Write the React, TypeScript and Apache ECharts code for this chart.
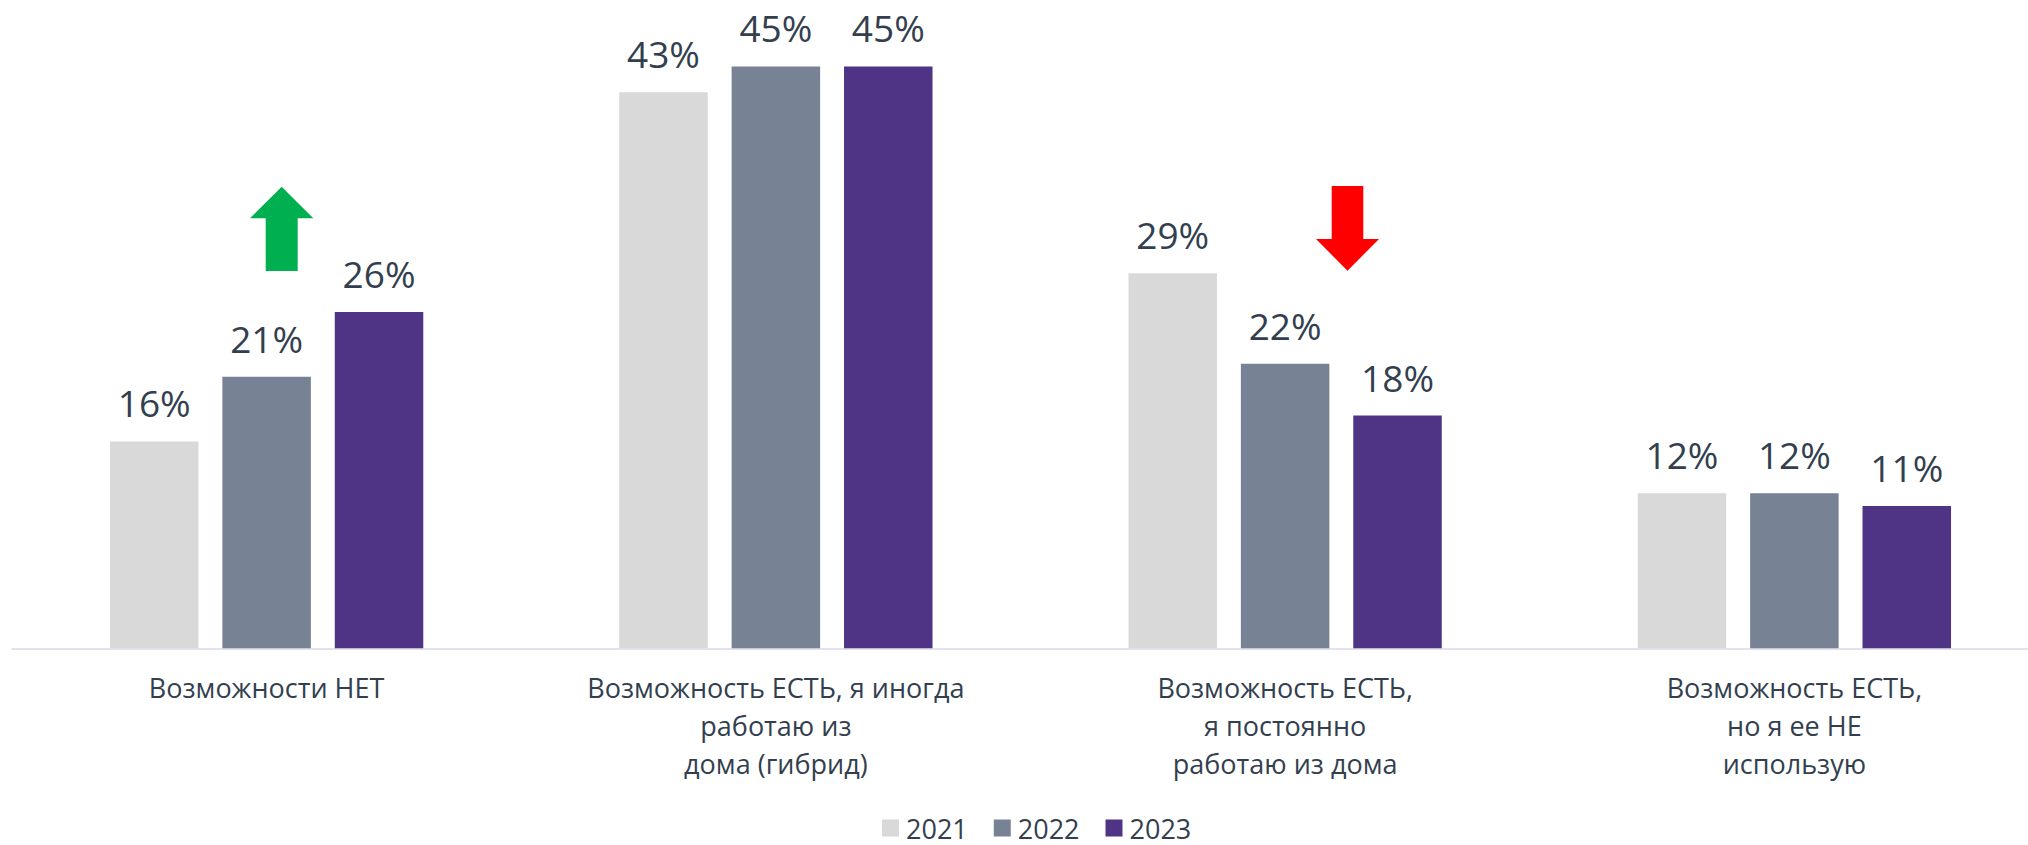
import React, { useEffect, useRef } from "react";
import * as echarts from "echarts";

const categories = [
  "Возможности НЕТ",
  "Возможность ЕСТЬ, я иногда\nработаю из\nдома (гибрид)",
  "Возможность ЕСТЬ,\nя постоянно\nработаю из дома",
  "Возможность ЕСТЬ,\nно я ее НЕ\nиспользую",
];
const years = ["2021", "2022", "2023"];
const values2021 = [16, 43, 29, 12];
const values2022 = [21, 45, 22, 12];
const values2023 = [26, 45, 18, 11];
const colors = ["#D9D9D9", "#778294", "#4F3485"];

const FONT = "'Open Sans', 'Noto Sans', sans-serif";
const TEXT = "#333F4F";

export default function App() {
  const ref = useRef<HTMLDivElement>(null);
  useEffect(() => {
    if (!ref.current) return;
    const chart = echarts.init(ref.current, null, { renderer: "svg" });
    const seriesData = [values2021, values2022, values2023];
    chart.setOption({
      animation: false,
      backgroundColor: "#FFFFFF",
      textStyle: { fontFamily: FONT },
      grid: { left: 12, top: 1.8, width: 2037, height: 646.5, containLabel: false },
      legend: {
        data: years,
        left: 877,
        top: 808,
        itemWidth: 17,
        itemHeight: 17,
        itemGap: 26,
        icon: "rect",
        textStyle: { fontFamily: FONT, fontSize: 27, lineHeight: 30, color: TEXT, padding: [0, 0, 0, 2] },
      },
      xAxis: {
        type: "category",
        data: categories,
        axisTick: { show: false },
        axisLine: { lineStyle: { color: "#DDD8EA", width: 1.5 } },
        axisLabel: {
          interval: 0,
          margin: 20,
          fontFamily: FONT,
          fontSize: 27,
          lineHeight: 38,
          color: TEXT,
          align: "center",
        },
      },
      yAxis: {
        type: "value",
        min: 0,
        max: 50,
        show: false,
        splitLine: { show: false },
      },
      series: years.map((y, i) => ({
        name: y,
        type: "bar",
        data: seriesData[i],
        barWidth: 88.5,
        barGap: "27%",
        itemStyle: { color: colors[i] },
        label: {
          show: true,
          position: "top",
          distance: 20,
          formatter: "{c}%",
          fontFamily: FONT,
          fontSize: 37,
          color: TEXT,
        },
      })),
      graphic: [
        {
          type: "polygon",
          shape: {
            points: [
              [281.7, 186.7],
              [313.3, 218.3],
              [297.7, 218.3],
              [297.7, 271],
              [265.7, 271],
              [265.7, 218.3],
              [250, 218.3],
            ],
          },
          style: { fill: "#00B050" },
        },
        {
          type: "polygon",
          shape: {
            points: [
              [1331.7, 186],
              [1363.3, 186],
              [1363.3, 239],
              [1379, 239],
              [1347.5, 270.7],
              [1316, 239],
              [1331.7, 239],
            ],
          },
          style: { fill: "#FF0000" },
        },
      ],
    });
    return () => chart.dispose();
  }, []);
  return (
    <div
      style={{
        position: "absolute",
        left: 0,
        top: 0,
        width: 2028,
        height: 845,
        overflow: "hidden",
        background: "#fff",
      }}
    >
      <div ref={ref} style={{ width: 2060, height: 845 }} />
    </div>
  );
}
